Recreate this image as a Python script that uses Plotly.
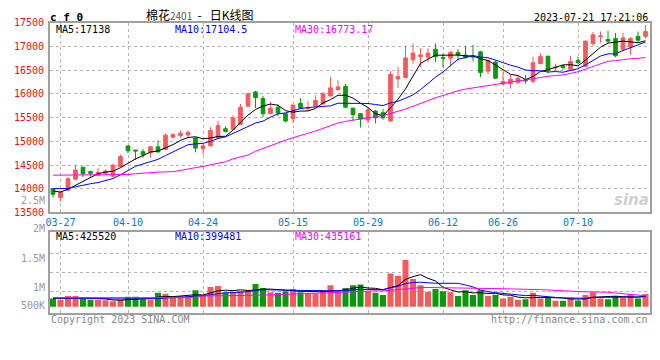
import plotly.graph_objects as go

# ---------------- data ----------------
dates = ["03-24", "03-27", "03-28", "03-29", "03-30", "03-31",
         "04-03", "04-04", "04-06", "04-07",
         "04-10", "04-11", "04-12", "04-13", "04-14",
         "04-17", "04-18", "04-19", "04-20", "04-21",
         "04-24", "04-25", "04-26", "04-27", "04-28",
         "05-04", "05-05",
         "05-08", "05-09", "05-10", "05-11", "05-12",
         "05-15", "05-16", "05-17", "05-18", "05-19",
         "05-22", "05-23", "05-24", "05-25", "05-26",
         "05-29", "05-30", "05-31", "06-01", "06-02",
         "06-05", "06-06", "06-07", "06-08", "06-09",
         "06-12", "06-13", "06-14", "06-15", "06-16",
         "06-19", "06-20", "06-21",
         "06-26", "06-27", "06-28", "06-29", "06-30",
         "07-03", "07-04", "07-05", "07-06", "07-07",
         "07-10", "07-11", "07-12", "07-13", "07-14",
         "07-17", "07-18", "07-19", "07-20", "07-21"]

opens = [14000, 13812, 13965, 14200, 14455, 14359, 14281, 14326, 14261, 14465,
         14904, 14816, 14781, 14761, 14884, 14828, 15088, 15122, 15135, 15073,
         14849, 14904, 15073, 15265, 15257, 15359, 15741, 16041, 15904, 15584,
         15720, 15584, 15482, 15802, 15686, 15741, 15788, 15959, 16094, 16163,
         15700, 15584, 15449, 15639, 15604, 15428, 16318, 16347, 16720, 16788,
         16776, 16945, 16767, 16755, 16878, 16822, 16796, 16890, 16482, 16673,
         16210, 16216, 16245, 16298, 16265, 16639, 16796, 16550, 16592, 16522,
         16706, 16584, 17061, 17210, 17149, 17169, 16945, 16992, 17216, 17216]
highs = [14020, 13935, 14240, 14496, 14460, 14379, 14434, 14408, 14530, 14720,
         14910, 14820, 14837, 14890, 15020, 15169, 15169, 15231, 15231, 15080,
         14951, 15298, 15435, 15312, 15551, 15788, 16010, 16067, 15959, 15837,
         15780, 15590, 15770, 15910, 15857, 15971, 16047, 16353, 16286, 16210,
         15710, 15590, 15700, 15660, 15680, 16482, 16571, 17012, 17067, 16965,
         16965, 17067, 16857, 16910, 16945, 17012, 17033, 16910, 16720, 16706,
         16469, 16400, 16380, 16400, 16788, 16857, 16810, 16639, 16612, 16808,
         16788, 17130, 17306, 17318, 17333, 17286, 17286, 17200, 17318, 17455]
lows = [13816, 13726, 13960, 14190, 14245, 14257, 14270, 14315, 14250, 14450,
        14747, 14612, 14653, 14653, 14770, 14820, 15067, 15073, 15073, 14767,
        14720, 14900, 15060, 15190, 15250, 15350, 15740, 15700, 15516, 15575,
        15537, 15400, 15379, 15695, 15653, 15735, 15780, 15950, 16060, 15700,
        15428, 15292, 15380, 15379, 15455, 15410, 16128, 16340, 16639, 16571,
        16673, 16673, 16557, 16584, 16706, 16741, 16686, 16353, 16420, 16320,
        16190, 16114, 16210, 16216, 16230, 16630, 16435, 16502, 16510, 16510,
        16625, 16570, 17012, 17082, 17082, 16776, 16898, 16829, 17100, 17169]
closes = [13883, 13924, 14210, 14394, 14312, 14326, 14343, 14373, 14496, 14679,
          14802, 14796, 14720, 14884, 14775, 15128, 15143, 15169, 15190, 14857,
          14904, 15231, 15332, 15210, 15496, 15720, 16006, 15924, 15584, 15700,
          15598, 15428, 15767, 15700, 15714, 15863, 16006, 16129, 16149, 15720,
          15563, 15469, 15665, 15496, 15496, 16414, 16367, 16761, 16863, 16822,
          16863, 16788, 16755, 16878, 16822, 16775, 16782, 16455, 16706, 16333,
          16265, 16312, 16333, 16278, 16659, 16788, 16502, 16565, 16557, 16686,
          16659, 17114, 17251, 17225, 17114, 16808, 17184, 17169, 17135, 17318]

ma5 = [13950, 13930, 13990, 14070,
       14145, 14233, 14317, 14350, 14370, 14443, 14539, 14629, 14699, 14776,
       14795, 14861, 14930, 15020, 15081, 15097, 15053, 15070, 15103, 15107,
       15235, 15398, 15553, 15671, 15746, 15787, 15762, 15647, 15615, 15639,
       15641, 15694, 15810, 15882, 15972, 15973, 15913, 15806, 15713, 15583,
       15538, 15708, 15888, 16107, 16380, 16645, 16735, 16819, 16818, 16821,
       16821, 16804, 16802, 16742, 16708, 16610, 16508, 16414, 16390, 16304,
       16369, 16474, 16512, 16558, 16614, 16620, 16594, 16716, 16853, 16987,
       17073, 17102, 17116, 17100, 17082, 17123]
ma10 = [14000, 14000, 14005, 14040, 14080, 14105, 14130, 14175, 14215,
        14294, 14386, 14473, 14524, 14573, 14619, 14700, 14780, 14859, 14929,
        14946, 14957, 15000, 15061, 15094, 15166, 15225, 15312, 15387, 15426,
        15511, 15580, 15600, 15643, 15692, 15714, 15728, 15728, 15749, 15805,
        15807, 15804, 15808, 15798, 15777, 15756, 15811, 15847, 15910, 15981,
        16092, 16222, 16354, 16463, 16601, 16733, 16769, 16811, 16780, 16765,
        16716, 16656, 16608, 16566, 16506, 16490, 16491, 16463, 16474, 16459,
        16495, 16534, 16614, 16706, 16801, 16846, 16848, 16916, 16977, 17035,
        17098]
ma30 = [14285, 14285, 14285, 14285, 14285, 14285, 14285, 14285, 14285, 14285,
        14300, 14315, 14330, 14340, 14350, 14355, 14360, 14385, 14420, 14445,
        14470, 14500, 14530, 14570, 14630, 14670, 14710, 14790, 14850,
        14917, 14974, 15024, 15076, 15120, 15167, 15218, 15273, 15332, 15387,
        15422, 15447, 15469, 15501, 15521, 15545, 15588, 15629, 15682, 15738,
        15803, 15869, 15920, 15968, 16023, 16068, 16103, 16129, 16146, 16184,
        16205, 16227, 16257, 16275, 16295, 16326, 16357, 16374, 16388, 16402,
        16434, 16470, 16525, 16578, 16636, 16690, 16703, 16730, 16744, 16753,
        16769]

volumes = [330000, 272000, 427000, 427000, 330000, 272000, 272000, 252000, 213000, 272000,
           400000, 400000, 299000, 272000, 555000, 516000, 361000, 427000, 427000, 660000,
           466000, 788000, 826000, 555000, 582000, 621000, 660000, 904000, 749000, 582000,
           555000, 621000, 710000, 582000, 516000, 516000, 660000, 854000, 621000, 749000,
           854000, 892000, 621000, 555000, 466000, 1331000, 1242000, 1874000, 1114000, 854000,
           594000, 710000, 621000, 582000, 427000, 660000, 466000, 660000, 427000, 477000,
           322000, 400000, 272000, 299000, 555000, 322000, 388000, 233000, 233000, 361000,
           244000, 466000, 582000, 322000, 299000, 427000, 361000, 493000, 322000, 504000]
vma5 = [330000, 325000, 330000, 345000,
        357000, 346000, 346000, 311000, 268000, 256000, 282000, 307000, 317000, 329000,
        385000, 408000, 401000, 426000, 457000, 478000, 468000, 554000, 633000, 659000,
        643000, 674000, 649000, 664000, 703000, 703000, 690000, 682000, 643000, 610000,
        597000, 589000, 597000, 626000, 633000, 680000, 748000, 794000, 747000, 734000,
        678000, 773000, 843000, 1094000, 1205000, 1283000, 1136000, 1029000, 779000, 672000,
        587000, 600000, 551000, 559000, 528000, 538000, 470000, 457000, 380000, 354000,
        370000, 370000, 367000, 359000, 346000, 307000, 292000, 307000, 377000, 395000,
        383000, 419000, 398000, 380000, 380000, 421000]
vma10 = [345000, 345000, 345000, 345000, 340000, 335000, 330000, 320000, 310000,
         307000, 314000, 327000, 314000, 298000, 321000, 345000, 354000, 372000, 393000,
         432000, 438000, 477000, 530000, 558000, 561000, 571000, 601000, 649000, 681000,
         673000, 682000, 666000, 654000, 657000, 650000, 640000, 640000, 635000, 622000,
         638000, 668000, 695000, 687000, 684000, 679000, 760000, 819000, 921000, 970000,
         980000, 954000, 936000, 936000, 939000, 935000, 868000, 790000, 669000, 600000,
         562000, 535000, 504000, 469000, 441000, 454000, 420000, 412000, 370000, 350000,
         339000, 331000, 337000, 368000, 371000, 345000, 356000, 353000, 379000, 388000,
         402000]
vma30 = [361000] * 20 + [427000] * 7 + [455000, 462000] + [
         471000, 478000, 490000, 499000, 504000, 511000, 519000, 532000, 552000, 565000,
         581000, 596000, 613000, 623000, 633000, 630000, 657000, 686000, 735000, 758000,
         764000, 768000, 766000, 759000, 760000, 755000, 756000, 749000, 741000, 731000,
         727000, 719000, 712000, 697000, 688000, 689000, 683000, 674000, 653000, 640000,
         627000, 607000, 593000, 591000, 583000, 578000, 548000, 518000, 472000, 446000,
         434000]

price_ticks = [13500, 14000, 14500, 15000, 15500, 16000, 16500, 17000, 17500]
date_ticks = ["03-27", "04-10", "04-24", "05-15", "05-29", "06-12", "06-26", "07-10"]
vol_labels = ["2.5M", "2M", "1.5M", "1M", "500K"]

# ---------------- styling ----------------
RED = "#f65a5a"
GREEN = "#0a9a0a"
MONO = "DejaVu Sans Mono"
GRID = "#b4b4b4"
BORDER = "#a0a0a0"

W, H = 660, 360
ML, MR = 50, 10
PW = W - ML - MR


def px(xp):
    return (xp - ML) / PW


def py(yp):
    return (H - yp) / H


x = list(range(len(dates)))
bar_colors = [RED if c >= o else GREEN for o, c in zip(opens, closes)]
tickvals = [dates.index(d) for d in date_ticks]

fig = go.Figure()
fig.add_trace(go.Candlestick(
    x=x, open=opens, high=highs, low=lows, close=closes,
    increasing=dict(line=dict(color=RED, width=1), fillcolor=RED),
    decreasing=dict(line=dict(color=GREEN, width=1), fillcolor=GREEN),
    whiskerwidth=0, hoverinfo="skip", xaxis="x", yaxis="y", showlegend=False))
for arr, col in ((ma5, "#000000"), (ma10, "#0000ff"), (ma30, "#ff00ff")):
    fig.add_trace(go.Scatter(x=x, y=arr, mode="lines", line=dict(color=col, width=1),
                             hoverinfo="skip", xaxis="x", yaxis="y", showlegend=False))

fig.add_trace(go.Bar(x=x, y=volumes, marker=dict(color=bar_colors, line=dict(width=0)),
                     width=0.8, hoverinfo="skip", xaxis="x2", yaxis="y2", showlegend=False))
for arr, col in ((vma5, "#000000"), (vma10, "#0000ff"), (vma30, "#ff00ff")):
    fig.add_trace(go.Scatter(x=x, y=arr, mode="lines", line=dict(color=col, width=1),
                             hoverinfo="skip", xaxis="x2", yaxis="y2", showlegend=False))

xr = [-0.4, 79.6]
axis_common = dict(showline=True, mirror=True, linecolor=BORDER, linewidth=2,
                   zeroline=False, showgrid=True, gridcolor=GRID, gridwidth=1,
                   griddash="dot", ticks="")

vol_grid = [593640, 1369640, 2145640]

fig.update_layout(
    width=W, height=H,
    margin=dict(l=ML, r=MR, t=0, b=0),
    paper_bgcolor="white", plot_bgcolor="white",
    boxgap=0.3, bargap=0.2,
    hovermode=False,
    xaxis=dict(domain=[0, 1], range=xr, anchor="y", tickvals=tickvals, ticktext=date_ticks,
               tickfont=dict(family=MONO, size=10, color="#0a78d0"),
               rangeslider=dict(visible=False), **axis_common),
    yaxis=dict(domain=[py(213.5), py(17.5)], range=[13500, 17500], anchor="x",
               tickvals=price_ticks, ticktext=[str(v) for v in price_ticks],
               tickfont=dict(family=MONO, size=10, color="#ee1111"),
               ticklabelstandoff=2, **axis_common),
    xaxis2=dict(domain=[0, 1], range=xr, anchor="y2", matches="x", tickvals=tickvals,
                showticklabels=False, **axis_common),
    yaxis2=dict(domain=[py(318), py(234)], range=[-272000, 2988000], anchor="x2",
                tickvals=vol_grid, showticklabels=False, **axis_common),
)


def ann(text, xp, yp, color="#000000", size=10, xanchor="left", family=MONO):
    return dict(text=text, x=px(xp), y=py(yp), xref="paper", yref="paper",
                xanchor=xanchor, yanchor="middle", showarrow=False,
                font=dict(family=family, size=size, color=color))


anns = [
    ann("<b>c f 0</b>", 48, 12, size=11),
    ann("棉花<span style='color:#555555;font-size:10px'>2401</span>"
        "&nbsp;&nbsp;-&nbsp;&nbsp;&nbsp;日K线图", 200, 9,
        size=12, xanchor="center", family="Noto Sans CJK SC"),
    ann("2023-07-21 17:21:06", 650, 12, xanchor="right"),
    ann("MA5:%d" % 17138, 54, 24, "#000000"),
    ann("MA10:%s" % "17104.5", 173, 24, "#0000ff"),
    ann("MA30:%s" % "16773.17", 293, 24, "#ff00ff"),
    ann("MA5:%d" % 425520, 54, 238.5, "#000000"),
    ann("MA10:%d" % 399481, 173, 238.5, "#0000ff"),
    ann("MA30:%d" % 435161, 293, 238.5, "#ff00ff"),
    ann("Copyright 2023 SINA.COM", 49, 324, "#888888"),
    ann("http://finance.sina.com.cn", 650, 324, "#888888", xanchor="right"),
    ann("<b><i>sina</i></b>", 651, 201, "#cfcfcf", size=15, xanchor="right",
        family="DejaVu Sans"),
]
for lab, yp in zip(vol_labels, [201.7, 230.5, 261, 291, 310]):
    anns.append(ann(lab, 47, yp, "#999999", xanchor="right"))
fig.update_layout(annotations=anns)

fig.write_html("out.html",
               config={"displayModeBar": False, "staticPlot": True},
               post_script="document.body.style.margin='0px';"
                           "document.body.style.overflow='hidden';")
